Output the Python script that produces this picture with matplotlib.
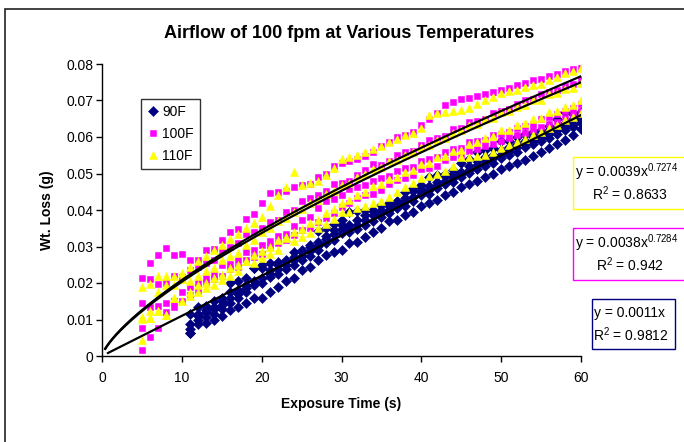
import numpy as np
import matplotlib
matplotlib.use("Agg")
import matplotlib.pyplot as plt
from matplotlib.patches import Rectangle

plt.rcParams['font.family'] = ['Liberation Sans', 'DejaVu Sans']
plt.rcParams['mathtext.fontset'] = 'custom'
plt.rcParams['mathtext.rm'] = 'Liberation Sans'

#Datos: tiempos (s) y perdida de peso (g) por corrida
t_90 = list(range(11, 61))
t_hot = list(range(5, 61))

w90_runs = [
    [.0115, .0135, .0138, .0150, .0160, .0200, .0205, .0215, .0240, .0250,
     .0255, .0258, .0260, .0285, .0290, .0300, .0342, .0350, .0362, .0372,
     .0395, .0398, .0400, .0400, .0415, .0420, .0425, .0448, .0460, .0468,
     .0490, .0495, .0500, .0510, .0530, .0540, .0560, .0565, .0570, .0588,
     .0590, .0600, .0608, .0615, .0620, .0630, .0648, .0668, .0662, .0668],
    [.0088, .0115, .0120, .0135, .0150, .0175, .0180, .0195, .0240, .0240,
     .0235, .0248, .0262, .0270, .0285, .0305, .0312, .0320, .0345, .0360,
     .0360, .0372, .0385, .0398, .0400, .0412, .0420, .0432, .0452, .0458,
     .0465, .0478, .0492, .0500, .0505, .0520, .0535, .0545, .0550, .0565,
     .0572, .0580, .0590, .0600, .0605, .0618, .0625, .0638, .0648, .0655],
    [.0075, .0110, .0125, .0128, .0140, .0160, .0170, .0185, .0205, .0215,
     .0225, .0238, .0250, .0262, .0275, .0288, .0302, .0328, .0335, .0348,
     .0352, .0360, .0372, .0385, .0392, .0400, .0415, .0425, .0435, .0448,
     .0455, .0468, .0480, .0488, .0498, .0510, .0522, .0532, .0542, .0550,
     .0562, .0572, .0582, .0590, .0598, .0608, .0618, .0628, .0636, .0645],
    [.0063, .0099, .0108, .0115, .0128, .0145, .0160, .0175, .0195, .0200,
     .0216, .0225, .0238, .0250, .0263, .0275, .0290, .0310, .0318, .0337,
     .0340, .0348, .0360, .0370, .0380, .0392, .0405, .0412, .0425, .0440,
     .0445, .0460, .0470, .0478, .0490, .0502, .0512, .0520, .0530, .0542,
     .0552, .0560, .0572, .0580, .0590, .0598, .0608, .0618, .0628, .0638],
    [.0063, .0088, .0090, .0100, .0110, .0126, .0135, .0145, .0160, .0160,
     .0175, .0190, .0205, .0215, .0235, .0245, .0262, .0277, .0285, .0290,
     .0310, .0312, .0325, .0340, .0350, .0370, .0372, .0385, .0395, .0412,
     .0420, .0428, .0440, .0450, .0462, .0470, .0480, .0490, .0500, .0512,
     .0520, .0528, .0538, .0548, .0560, .0570, .0580, .0592, .0605, .0622],
]

w100_runs = [
    [.0213, .0255, .0277, .0295, .0277, .0280, .0262, .0262, .0290, .0292,
     .0318, .0340, .0348, .0375, .0390, .0420, .0446, .0448, .0452, .0462,
     .0468, .0470, .0490, .0500, .0520, .0530, .0535, .0540, .0548, .0560,
     .0575, .0585, .0600, .0605, .0615, .0632, .0650, .0665, .0688, .0695,
     .0705, .0708, .0712, .0718, .0722, .0728, .0735, .0742, .0748, .0755,
     .0760, .0768, .0772, .0780, .0785, .0790],
    [.0146, .0210, .0197, .0200, .0220, .0217, .0235, .0245, .0255, .0262,
     .0290, .0300, .0310, .0335, .0340, .0352, .0368, .0372, .0395, .0400,
     .0425, .0432, .0440, .0452, .0470, .0475, .0480, .0495, .0510, .0525,
     .0522, .0535, .0550, .0560, .0562, .0578, .0592, .0598, .0602, .0622,
     .0625, .0640, .0645, .0650, .0665, .0672, .0678, .0690, .0702, .0705,
     .0718, .0722, .0728, .0740, .0745, .0758],
    [.0076, .0135, .0137, .0146, .0150, .0175, .0190, .0200, .0215, .0225,
     .0248, .0252, .0262, .0285, .0290, .0305, .0315, .0330, .0335, .0355,
     .0372, .0380, .0405, .0425, .0430, .0440, .0458, .0462, .0468, .0480,
     .0488, .0492, .0508, .0515, .0518, .0535, .0540, .0545, .0560, .0568,
     .0570, .0585, .0590, .0592, .0605, .0608, .0615, .0625, .0630, .0635,
     .0650, .0655, .0662, .0670, .0680, .0690],
    [.0016, .0053, .0076, .0120, .0135, .0150, .0168, .0178, .0200, .0210,
     .0220, .0238, .0245, .0262, .0270, .0280, .0298, .0310, .0318, .0332,
     .0345, .0350, .0368, .0378, .0392, .0408, .0418, .0432, .0440, .0445,
     .0455, .0470, .0482, .0488, .0495, .0512, .0515, .0520, .0538, .0545,
     .0548, .0562, .0568, .0575, .0582, .0590, .0598, .0605, .0612, .0620,
     .0628, .0635, .0642, .0652, .0662, .0672],
]

w110_runs = [
    [.0190, .0197, .0220, .0220, .0218, .0228, .0245, .0260, .0275, .0290,
     .0305, .0320, .0335, .0350, .0365, .0380, .0410, .0440, .0464, .0503,
     .0468, .0475, .0480, .0495, .0515, .0540, .0545, .0550, .0560, .0568,
     .0575, .0585, .0595, .0605, .0612, .0625, .0660, .0665, .0668, .0672,
     .0675, .0680, .0690, .0700, .0710, .0720, .0725, .0730, .0738, .0742,
     .0746, .0755, .0765, .0775, .0782, .0788],
    [.0107, .0122, .0174, .0195, .0195, .0210, .0205, .0218, .0232, .0240,
     .0262, .0275, .0282, .0305, .0318, .0340, .0352, .0370, .0378, .0395,
     .0402, .0420, .0428, .0445, .0452, .0468, .0475, .0490, .0498, .0512,
     .0518, .0535, .0538, .0552, .0558, .0572, .0578, .0592, .0598, .0612,
     .0618, .0632, .0636, .0650, .0652, .0668, .0670, .0682, .0688, .0700,
     .0702, .0718, .0720, .0732, .0735, .0748],
    [.0101, .0104, .0124, .0113, .0160, .0210, .0175, .0195, .0200, .0215,
     .0222, .0240, .0248, .0260, .0278, .0288, .0300, .0318, .0322, .0340,
     .0348, .0365, .0372, .0392, .0402, .0420, .0428, .0442, .0450, .0465,
     .0470, .0485, .0490, .0505, .0510, .0525, .0530, .0545, .0548, .0562,
     .0565, .0580, .0585, .0598, .0602, .0618, .0620, .0632, .0638, .0650,
     .0652, .0668, .0670, .0682, .0688, .0702],
    [.0045, .0104, .0124, .0113, .0160, .0150, .0165, .0175, .0185, .0195,
     .0208, .0220, .0232, .0260, .0255, .0268, .0280, .0290, .0325, .0315,
     .0325, .0338, .0350, .0362, .0375, .0395, .0395, .0405, .0412, .0418,
     .0425, .0435, .0448, .0462, .0475, .0487, .0492, .0498, .0508, .0520,
     .0545, .0546, .0548, .0552, .0560, .0570, .0578, .0585, .0595, .0605,
     .0615, .0625, .0632, .0646, .0655, .0665],
]

#Coeficientes de las lineas de tendencia (como aparecen en las etiquetas)
fit_90 = 0.0011
fit_100 = (0.0038, 0.7284)
fit_110 = (0.0039, 0.7274)

series_labels = ['90F', '100F', '110F']
x_ticks = [0, 10, 20, 30, 40, 50, 60]
y_ticks = [0, 0.01, 0.02, 0.03, 0.04, 0.05, 0.06, 0.07, 0.08]
y_tick_labels = ['0', '0.01', '0.02', '0.03', '0.04', '0.05', '0.06', '0.07', '0.08']

navy = '#000080'
magenta = '#FF00FF'
yellow = '#FFFF00'

fig = plt.figure(figsize=(6.84, 4.42), dpi=100)
W, H = 684, 442

def fx(px):
    return px / W

def fy(py):
    return 1 - py / H

#Marco exterior del grafico
fig.patches.append(Rectangle((fx(5), fy(700)), 2, fy(9) - fy(700), transform=fig.transFigure,
                             fill=False, edgecolor='#222222', linewidth=1.2, clip_on=False))

ax = fig.add_axes([fx(102), fy(356), fx(581) - fx(102), fy(64) - fy(356)])

for i, run in enumerate(w90_runs):
    ax.plot(t_90, run, linestyle='none', marker='D', markersize=4.7, color=navy,
            markeredgewidth=0.4, label=series_labels[0] if i == 0 else None)
for i, run in enumerate(w100_runs):
    ax.plot(t_hot, run, linestyle='none', marker='s', markersize=4.8, color=magenta,
            markeredgewidth=0.4, label=series_labels[1] if i == 0 else None)
for i, run in enumerate(w110_runs):
    ax.plot(t_hot, run, linestyle='none', marker='^', markersize=5.9, color=yellow,
            markeredgewidth=0.4, label=series_labels[2] if i == 0 else None)

#Lineas de tendencia
tt = np.linspace(0.4, 60, 300)
tl = np.linspace(0.75, 60, 50)
ax.plot(tl, fit_90 * tl, color='black', linewidth=1.6)
ax.plot(tt, fit_100[0] * tt ** fit_100[1], color='black', linewidth=1.6)
ax.plot(tt, fit_110[0] * tt ** fit_110[1], color='black', linewidth=1.6)

ax.set_xlim(0, 60)
ax.set_ylim(0, 0.08)
ax.set_xticks(x_ticks)
ax.set_xticklabels([str(v) for v in x_ticks])
ax.set_yticks(y_ticks)
ax.set_yticklabels(y_tick_labels)
ax.tick_params(direction='out', length=4.5, width=1, labelsize=10)
ax.tick_params(axis='x', pad=6)
ax.tick_params(axis='y', pad=1.5)
for s in ['top', 'right']:
    ax.spines[s].set_visible(False)
for s in ['left', 'bottom']:
    ax.spines[s].set_linewidth(1)

fig.text(fx(341), fy(404), 'Exposure Time (s)', ha='center', va='center', fontsize=10, fontweight='bold')
fig.text(fx(47), fy(210), 'Wt. Loss (g)', ha='center', va='center', rotation=90,
         fontsize=10, fontweight='bold')
fig.text(fx(349), fy(34), 'Airflow of 100 fpm at Various Temperatures', ha='center', va='center',
         fontsize=13, fontweight='bold')

leg = ax.legend(loc='upper left', bbox_to_anchor=(0.081, 0.88), borderaxespad=0, fontsize=10,
                frameon=True, fancybox=False, edgecolor='black', handletextpad=0.3,
                handlelength=0.8, borderpad=0.45, labelspacing=0.55)
leg.get_frame().set_linewidth(1)

#Etiquetas de ecuaciones
boxes = [
    (573, 157, 720, 209, yellow, r'y = 0.0039x$^{\mathregular{0.7274}}$', r'R$^{\mathregular{2}}$ = 0.8633', 575, 592),
    (573, 228, 720, 280, magenta, r'y = 0.0038x$^{\mathregular{0.7284}}$', r'R$^{\mathregular{2}}$ = 0.942', 575, 596),
    (592, 299, 675, 349, navy, 'y = 0.0011x', r'R$^{\mathregular{2}}$ = 0.9812', 594, 593),
]
for x0, y0, x1, y1, col, line1, line2, tx1, tx2 in boxes:
    fig.patches.append(Rectangle((fx(x0), fy(y1)), fx(x1) - fx(x0), fy(y0) - fy(y1),
                                 transform=fig.transFigure, facecolor='white', edgecolor=col,
                                 linewidth=1, clip_on=False))
    yc = (y0 + y1) / 2
    fig.text(fx(tx1), fy(yc - 10.5), line1, ha='left', va='center', fontsize=10)
    fig.text(fx(tx2), fy(yc + 11), line2, ha='left', va='center', fontsize=10)

fig.savefig('out.png', dpi=100)
